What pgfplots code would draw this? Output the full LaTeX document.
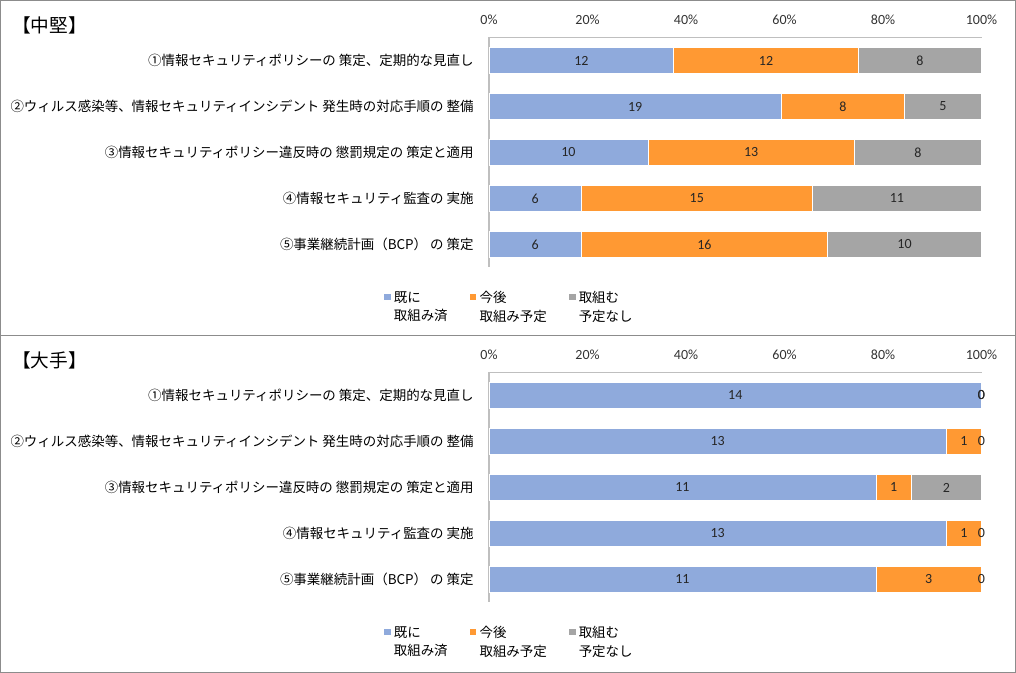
\documentclass[border=0pt]{standalone}
\usepackage{pgfplots}
\pgfplotsset{compat=1.18}
\usepackage{pgfplotstable}
\usepackage{fontspec}
\setmainfont{Carlito}
\newfontfamily\jp{Noto Sans CJK JP}
\definecolor{cblue}{HTML}{8FAADC}
\definecolor{corange}{HTML}{FF9933}
\definecolor{cgray}{HTML}{A5A5A5}
\definecolor{frame}{HTML}{8C8C8C}
\definecolor{axgray}{HTML}{BFBFBF}

% percentages (p), counts (c) and label centres (m)
\pgfplotstableread{
row p1 c1 p2 c2 p3 c3 m1 m2 m3
0 37.5 12 37.5 12 25 8 18.75 56.25 87.5
1 59.375 19 25 8 15.625 5 29.6875 71.875 92.1875
2 32.258 10 41.935 13 25.806 8 16.129 53.226 87.097
3 18.75 6 46.875 15 34.375 11 9.375 42.1875 82.8125
4 18.75 6 50 16 31.25 10 9.375 43.75 84.375
}\chuken

\pgfplotstableread{
row p1 c1 p2 c2 p3 c3 m1 m2 m3
0 100 14 0 0 0 0 50 100 100
1 92.857 13 7.143 1 0 0 46.429 96.429 100
2 78.571 11 7.143 1 14.286 2 39.286 82.143 92.857
3 92.857 13 7.143 1 0 0 46.429 96.429 100
4 78.571 11 21.429 3 0 0 39.286 89.286 100
}\ote

\pgfplotsset{
 frameaxis/.style={
  scale only axis,
  width=369.375pt, height=172.5pt,
  xmin=0, xmax=100, ymin=-0.5, ymax=4.5, y dir=reverse,
  clip=false,
 },
 panel/.style={
  frameaxis,
  xbar stacked, bar width=0.565,
  axis x line*=top, axis y line*=left,
  x axis line style={-, draw=axgray, line width=0.75pt},
  y axis line style={-, draw=axgray, line width=1.2pt},
  xtick={0,20,...,100}, xticklabel={\pgfmathprintnumber{\tick}\%},
  major tick length=0pt,
  ytick={0,...,4},
  yticklabels={
   {①情報セキュリティポリシーの 策定、定期的な見直し},
   {②ウィルス感染等、情報セキュリティインシデント 発生時の対応手順の 整備},
   {③情報セキュリティポリシー違反時の 懲罰規定の 策定と適用},
   {④情報セキュリティ監査の 実施},
   {⑤事業継続計画（BCP） の 策定}},
  yticklabel style={font=\jp\fontsize{10.1}{12}\selectfont, anchor=east, xshift=-8pt, text=black},
  xticklabel style={font=\fontsize{10.5}{12}\selectfont, yshift=6pt, text=black!80},
  /pgf/number format/assume math mode=true,
  legend style={at={(axis description cs:-0.2152,-0.09)}, anchor=north west,
    draw=none, inner sep=0pt, fill=none,
    font=\jp\fontsize{10.1}{14}\selectfont,
    cells={align=left, anchor=west},
    /tikz/every even column/.append style={column sep=14pt}},
  legend columns=3,
 },
 seg/.style={fill=#1, draw=white, line width=0.4pt,
   legend image code/.code={\fill[fill=#1] (0pt,5pt) rectangle (5.5pt,10.5pt);}},
 lbl/.style={draw=none, mark=none, point meta=explicit symbolic,
   nodes near coords, nodes near coords align={center},
   every node near coord/.append style={anchor=center,
     font=\fontsize{10.5}{12}\selectfont, text=black!85}},
}

\begin{document}
\begin{tikzpicture}[x=0.75pt,y=0.75pt]
\useasboundingbox (0,0) rectangle (1016,673);
\draw[frame, line width=0.75pt] (0.5,0.5) rectangle (1015.5,672.5);
\draw[frame, line width=0.75pt] (0.5,337.5) -- (1015.5,337.5);
\node[anchor=west, font=\jp\fontsize{14}{16}\selectfont, inner sep=0pt] at (12,648) {【中堅】};
\node[anchor=west, font=\jp\fontsize{14}{16}\selectfont, inner sep=0pt] at (12,313) {【大手】};

\begin{axis}[panel, at={(366.75pt,476.625pt)}, anchor=north west]
\addplot[seg=cblue] table[y=row, x=p1] {\chuken};
\addplot[seg=corange] table[y=row, x=p2] {\chuken};
\addplot[seg=cgray] table[y=row, x=p3] {\chuken};
\legend{既に\\取組み済, 今後\\取組み予定, 取組む\\予定なし}
\end{axis}
\begin{axis}[frameaxis, hide axis, at={(366.75pt,476.625pt)}, anchor=north west]
\addplot[lbl] table[y=row, x=m1, meta=c1] {\chuken};
\addplot[lbl] table[y=row, x=m2, meta=c2] {\chuken};
\addplot[lbl] table[y=row, x=m3, meta=c3] {\chuken};
\end{axis}

\begin{axis}[panel, at={(366.75pt,225.375pt)}, anchor=north west]
\addplot[seg=cblue] table[y=row, x=p1] {\ote};
\addplot[seg=corange] table[y=row, x=p2] {\ote};
\addplot[seg=cgray] table[y=row, x=p3] {\ote};
\legend{既に\\取組み済, 今後\\取組み予定, 取組む\\予定なし}
\end{axis}
\begin{axis}[frameaxis, hide axis, at={(366.75pt,225.375pt)}, anchor=north west]
\addplot[lbl] table[y=row, x=m1, meta=c1] {\ote};
\addplot[lbl] table[y=row, x=m2, meta=c2] {\ote};
\addplot[lbl] table[y=row, x=m3, meta=c3] {\ote};
\end{axis}
\end{tikzpicture}
\end{document}
